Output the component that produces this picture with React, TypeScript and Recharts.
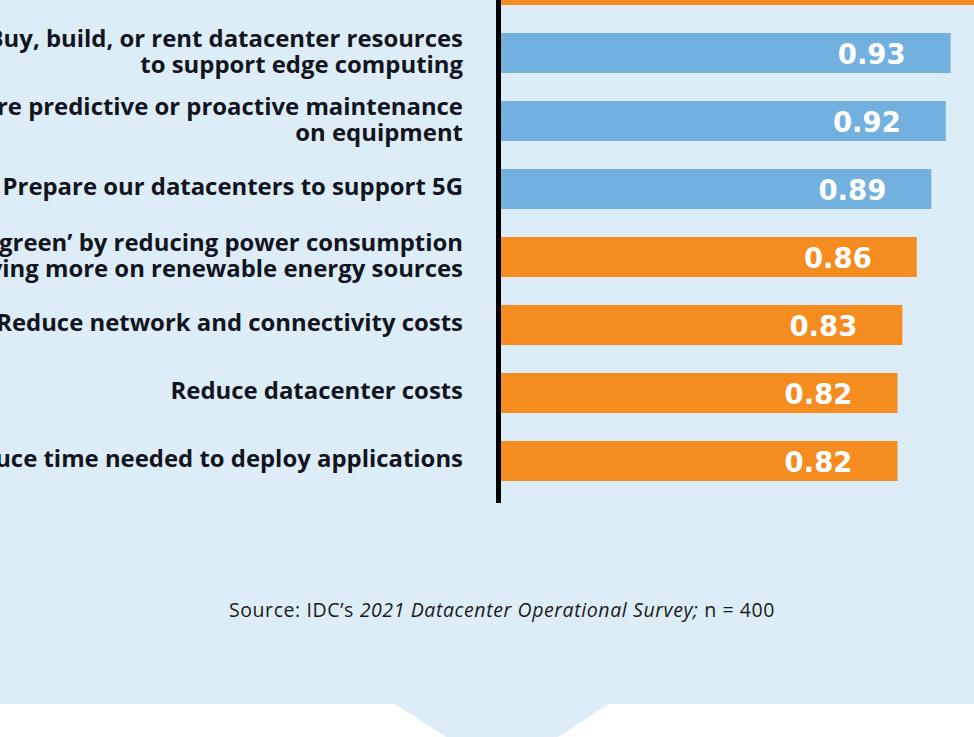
import { Bar, BarChart, Cell, LabelList, ReferenceLine, XAxis, YAxis } from "recharts";

// item labels (line by line), top item's label falls outside the view
const itemLines: string[][] = [
  [],
  ["Buy, build, or rent datacenter resources", "to support edge computing"],
  ["Do more predictive or proactive maintenance", "on equipment"],
  ["Prepare our datacenters to support 5G"],
  ["Go ‘green’ by reducing power consumption", "and relying more on renewable energy sources"],
  ["Reduce network and connectivity costs"],
  ["Reduce datacenter costs"],
  ["Reduce time needed to deploy applications"],
];
const scores = [1.0, 0.93, 0.92, 0.89, 0.86, 0.83, 0.82, 0.82];
const highlighted = [false, true, true, true, false, false, false, false];

const data = scores.map((score, i) => ({ key: `item${i}`, score, hl: highlighted[i] }));

const BG = "#DDEDF7";
const BLUE = "#72B1DF";
const ORANGE = "#F58C1F";
const INK = "#121420";

function ItemTick(props: any) {
  const { y, payload } = props;
  const lines = itemLines[payload.index] || [];
  const offsets = lines.length === 2 ? [-6.5, 19.5] : [6];
  return (
    <g>
      {lines.map((line, i) => (
        <text
          key={i}
          x={463}
          y={y + offsets[i]}
          textAnchor="end"
          fill={INK}
          fontFamily="'Open Sans', sans-serif"
          fontWeight={700}
          fontSize={23.9}
        >
          {line}
        </text>
      ))}
    </g>
  );
}

function ValueLabel(props: any) {
  const { x, y, width, height, value } = props;
  return (
    <text
      x={x + width - 45}
      y={y + height / 2 + 11}
      textAnchor="end"
      fill="#ffffff"
      fontFamily="DejaVu Sans, sans-serif"
      fontWeight={700}
      fontSize={27.5}
    >
      {Number(value).toFixed(2)}
    </text>
  );
}

// axis rule, a bit left of the bars and running past the last one
function AxisRule(p: any) {
  const top = Math.min(p.y1, p.y2);
  const bottom = Math.max(p.y1, p.y2) + 8;
  return <line x1={p.x1 - 2.5} x2={p.x2 - 2.5} y1={top} y2={bottom} stroke="#000" strokeWidth={5} />;
}

export default function App() {
  return (
    <div
      style={{
        position: "fixed",
        left: 0,
        top: 0,
        width: 974,
        height: 737,
        overflow: "hidden",
        background: BG,
      }}
    >
      <svg width={974} height={737} style={{ position: "absolute", left: 0, top: 0 }}>
        <polygon points="0,704 395,704 446,737 0,737" fill="#ffffff" />
        <polygon points="609,704 974,704 974,737 558,737" fill="#ffffff" />
        <text
          x={502}
          y={617}
          textAnchor="middle"
          fill="#1a1a1a"
          fontFamily="'Open Sans', sans-serif"
          fontSize={19.5}
          letterSpacing={0.6}
        >
          Source: IDC’s <tspan fontStyle="italic">2021 Datacenter Operational Survey;</tspan> n = 400
        </text>
      </svg>
      <div style={{ position: "absolute", left: 0, top: -60 }}>
        <BarChart
          width={1000}
          height={600}
          layout="vertical"
          data={data}
          margin={{ top: 11, right: 15.5, bottom: 45, left: 0 }}
        >
          <XAxis type="number" domain={[0, 1]} hide />
          <YAxis
            type="category"
            dataKey="key"
            width={501}
            axisLine={false}
            tickLine={false}
            tick={<ItemTick />}
            interval={0}
          />
          <Bar dataKey="score" barSize={40} isAnimationActive={false}>
            {data.map((d) => (
              <Cell key={d.key} fill={d.hl ? BLUE : ORANGE} />
            ))}
            <LabelList dataKey="score" content={<ValueLabel />} />
          </Bar>
          <ReferenceLine x={0} ifOverflow="visible" shape={(p: any) => <AxisRule {...p} />} />
        </BarChart>
      </div>
    </div>
  );
}
